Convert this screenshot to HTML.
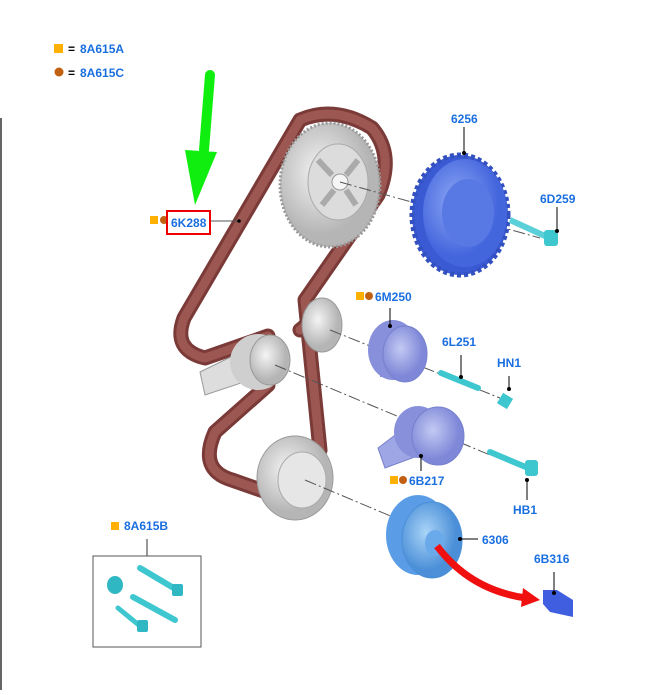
<!DOCTYPE html>
<html><head><meta charset="utf-8"><style>
body{margin:0;background:#fff;width:654px;height:690px;overflow:hidden;font-family:"Liberation Sans",sans-serif}
svg text{font-family:"Liberation Sans",sans-serif;font-weight:bold;font-size:12px;fill:#1a6fe0}
</style></head><body>
<svg width="654" height="690" viewBox="0 0 654 690" xmlns="http://www.w3.org/2000/svg">
<defs>
<radialGradient id="g" cx="40%" cy="40%"><stop offset="0" stop-color="#f4f4f4"/><stop offset="1" stop-color="#b5b5b5"/></radialGradient>
<radialGradient id="b" cx="40%" cy="40%"><stop offset="0" stop-color="#8fa8f5"/><stop offset="1" stop-color="#4466dd"/></radialGradient>
<radialGradient id="p" cx="40%" cy="40%"><stop offset="0" stop-color="#c3c9f3"/><stop offset="1" stop-color="#7f88d8"/></radialGradient>
<radialGradient id="c" cx="40%" cy="40%"><stop offset="0" stop-color="#a9d4f7"/><stop offset="1" stop-color="#4b8fd8"/></radialGradient>
</defs>
<rect x="0" y="118" width="2" height="572" fill="#666"/>
<rect x="54" y="44" width="9" height="9" fill="#ffb000"/><text x="68" y="53" style="fill:#000">=</text><text x="80" y="53">8A615A</text>
<circle cx="59" cy="72" r="4.5" fill="#c06010"/><text x="68" y="77" style="fill:#000">=</text><text x="80" y="77">8A615C</text>
<g fill="none" stroke-linejoin="round" stroke-linecap="round">
<path d="M300,120 L184,318 Q172,350 205,358 L268,336 M268,385 L215,432 Q198,470 232,480 L275,495 M300,120 Q335,105 372,128 Q395,155 378,195 L305,300 L320,450 M305,300 Q315,320 300,330" stroke="#7a3a37" stroke-width="15"/>
<path d="M300,120 L184,318 Q172,350 205,358 L268,336 M268,385 L215,432 Q198,470 232,480 L275,495 M300,120 Q335,105 372,128 Q395,155 378,195 L305,300 L320,450 M305,300 Q315,320 300,330" stroke="#9c5752" stroke-width="9" stroke-dasharray="3 1.5"/>
</g>
<ellipse cx="330" cy="185" rx="50" ry="62" fill="url(#g)" stroke="#999" stroke-width="3" stroke-dasharray="2 2"/>
<ellipse cx="338" cy="182" rx="30" ry="38" fill="#dcdcdc" stroke="#aaa"/>
<path d="M318,160 L332,175 M358,160 L346,175 M322,205 L334,190 M356,205 L346,190" stroke="#aaa" stroke-width="6"/>
<circle cx="340" cy="182" r="8" fill="#f5f5f5" stroke="#999"/>
<ellipse cx="322" cy="325" rx="20" ry="27" fill="url(#g)" stroke="#999"/>
<path d="M200,372 L245,350 L250,380 L205,395 Z" fill="#ddd" stroke="#999"/>
<ellipse cx="258" cy="362" rx="28" ry="28" fill="#cfcfcf"/>
<ellipse cx="270" cy="360" rx="20" ry="25" fill="url(#g)" stroke="#999"/>
<ellipse cx="295" cy="478" rx="38" ry="42" fill="url(#g)" stroke="#999"/>
<ellipse cx="302" cy="480" rx="24" ry="28" fill="#e6e6e6" stroke="#aaa"/>
<g stroke="#555" stroke-width="1" stroke-dasharray="12 3 2 3" fill="none">
<path d="M340,182 L540,238"/><path d="M330,330 L500,398"/><path d="M275,365 L490,455"/><path d="M305,480 L400,520"/>
</g>
<ellipse cx="460" cy="215" rx="48" ry="60" fill="#3a5ad4" stroke="#3350c0" stroke-width="5" stroke-dasharray="4 3"/>
<ellipse cx="465" cy="213" rx="42" ry="54" fill="url(#b)"/>
<ellipse cx="468" cy="213" rx="26" ry="34" fill="#5878e4"/>
<path d="M510,220 L545,236" stroke="#5cd0d8" stroke-width="6"/><rect x="544" y="230" width="14" height="16" rx="3" fill="#3fc7d0"/>
<ellipse cx="393" cy="350" rx="25" ry="30" fill="#8890dc"/>
<rect x="380" y="327" width="28" height="50" fill="#8890dc"/>
<ellipse cx="405" cy="354" rx="22" ry="28" fill="url(#p)" stroke="#7780cc"/>
<path d="M441,373 L478,388" stroke="#3fc7d0" stroke-width="6" stroke-linecap="round"/>
<path d="M500,398 L510,404" stroke="#3fc7d0" stroke-width="12"/>
<path d="M378,448 L415,420 L420,455 L385,468 Z" fill="#9ea6e5" stroke="#7780cc"/>
<ellipse cx="418" cy="432" rx="24" ry="26" fill="#8890dc"/>
<ellipse cx="438" cy="436" rx="26" ry="29" fill="url(#p)" stroke="#7780cc"/>
<path d="M490,452 L528,468" stroke="#3fc7d0" stroke-width="6" stroke-linecap="round"/><rect x="525" y="460" width="13" height="16" rx="3" fill="#3fc7d0"/>
<ellipse cx="418" cy="535" rx="32" ry="40" fill="#5a9de6"/>
<ellipse cx="432" cy="540" rx="30" ry="38" fill="url(#c)" stroke="#4b8fd8"/>
<ellipse cx="435" cy="543" rx="10" ry="13" fill="#6aa9ea"/>
<path d="M437,546 Q470,590 526,598" stroke="#f01010" stroke-width="7" fill="none"/>
<path d="M523,588 L540,600 L521,607 Z" fill="#f01010"/>
<path d="M543,590 L557,590 L573,600 L573,617 L550,612 L543,604 Z" fill="#3f5fe0"/>
<path d="M210,75 L204,150" stroke="#10ee10" stroke-width="10" stroke-linecap="round"/>
<path d="M185,150 L217,152 L195,205 Z" fill="#10ee10"/>
<rect x="150" y="216" width="8" height="8" fill="#ffb000"/><circle cx="164" cy="220" r="4" fill="#c06010"/>
<rect x="167" y="211" width="43" height="23" fill="none" stroke="#e00" stroke-width="2"/>
<text x="171" y="227">6K288</text>
<path d="M211,221 L238,221" stroke="#555"/><circle cx="239" cy="221" r="1.8" fill="#000"/>
<text x="451" y="123">6256</text><path d="M464,127 L464,153" stroke="#000"/><circle cx="464" cy="153" r="2" fill="#000"/>
<text x="540" y="203">6D259</text><path d="M557,207 L557,231" stroke="#000"/><circle cx="557" cy="231" r="2" fill="#000"/>
<rect x="356" y="292" width="8" height="8" fill="#ffb000"/><circle cx="369" cy="296" r="4" fill="#c06010"/><text x="375" y="301">6M250</text>
<path d="M390,308 L390,325" stroke="#000"/><circle cx="390" cy="326" r="2" fill="#000"/>
<text x="442" y="346">6L251</text><path d="M461,355 L461,377" stroke="#000"/><circle cx="461" cy="377" r="2" fill="#000"/>
<text x="497" y="367">HN1</text><path d="M509,376 L509,389" stroke="#000"/><circle cx="509" cy="389" r="2" fill="#000"/>
<rect x="390" y="476" width="8" height="8" fill="#ffb000"/><circle cx="403" cy="480" r="4" fill="#c06010"/><text x="409" y="485">6B217</text>
<path d="M421,456 L421,471" stroke="#000"/><circle cx="421" cy="456" r="2" fill="#000"/>
<text x="513" y="514">HB1</text><path d="M527,480 L527,500" stroke="#000"/><circle cx="527" cy="480" r="2" fill="#000"/>
<text x="482" y="544">6306</text><path d="M460,539 L478,539" stroke="#000"/><circle cx="460" cy="539" r="2" fill="#000"/>
<text x="534" y="563">6B316</text><path d="M554,572 L554,593" stroke="#000"/><circle cx="554" cy="593" r="2" fill="#000"/>
<rect x="111" y="522" width="8" height="8" fill="#ffb000"/><text x="124" y="530">8A615B</text>
<path d="M147,539 L147,556" stroke="#333"/>
<rect x="93" y="556" width="108" height="91" fill="none" stroke="#555"/>
<g stroke="#3fc7d0" stroke-linecap="round">
<path d="M140,568 L177,590" stroke-width="6"/><path d="M133,597 L175,620" stroke-width="6"/><path d="M118,608 L140,626" stroke-width="5"/>
</g>
<rect x="172" y="584" width="11" height="12" rx="2" fill="#2fb8c4"/><rect x="137" y="620" width="11" height="12" rx="2" fill="#2fb8c4"/>
<ellipse cx="115" cy="585" rx="8" ry="9" fill="#2fb8c4"/>
</svg>
</body></html>
